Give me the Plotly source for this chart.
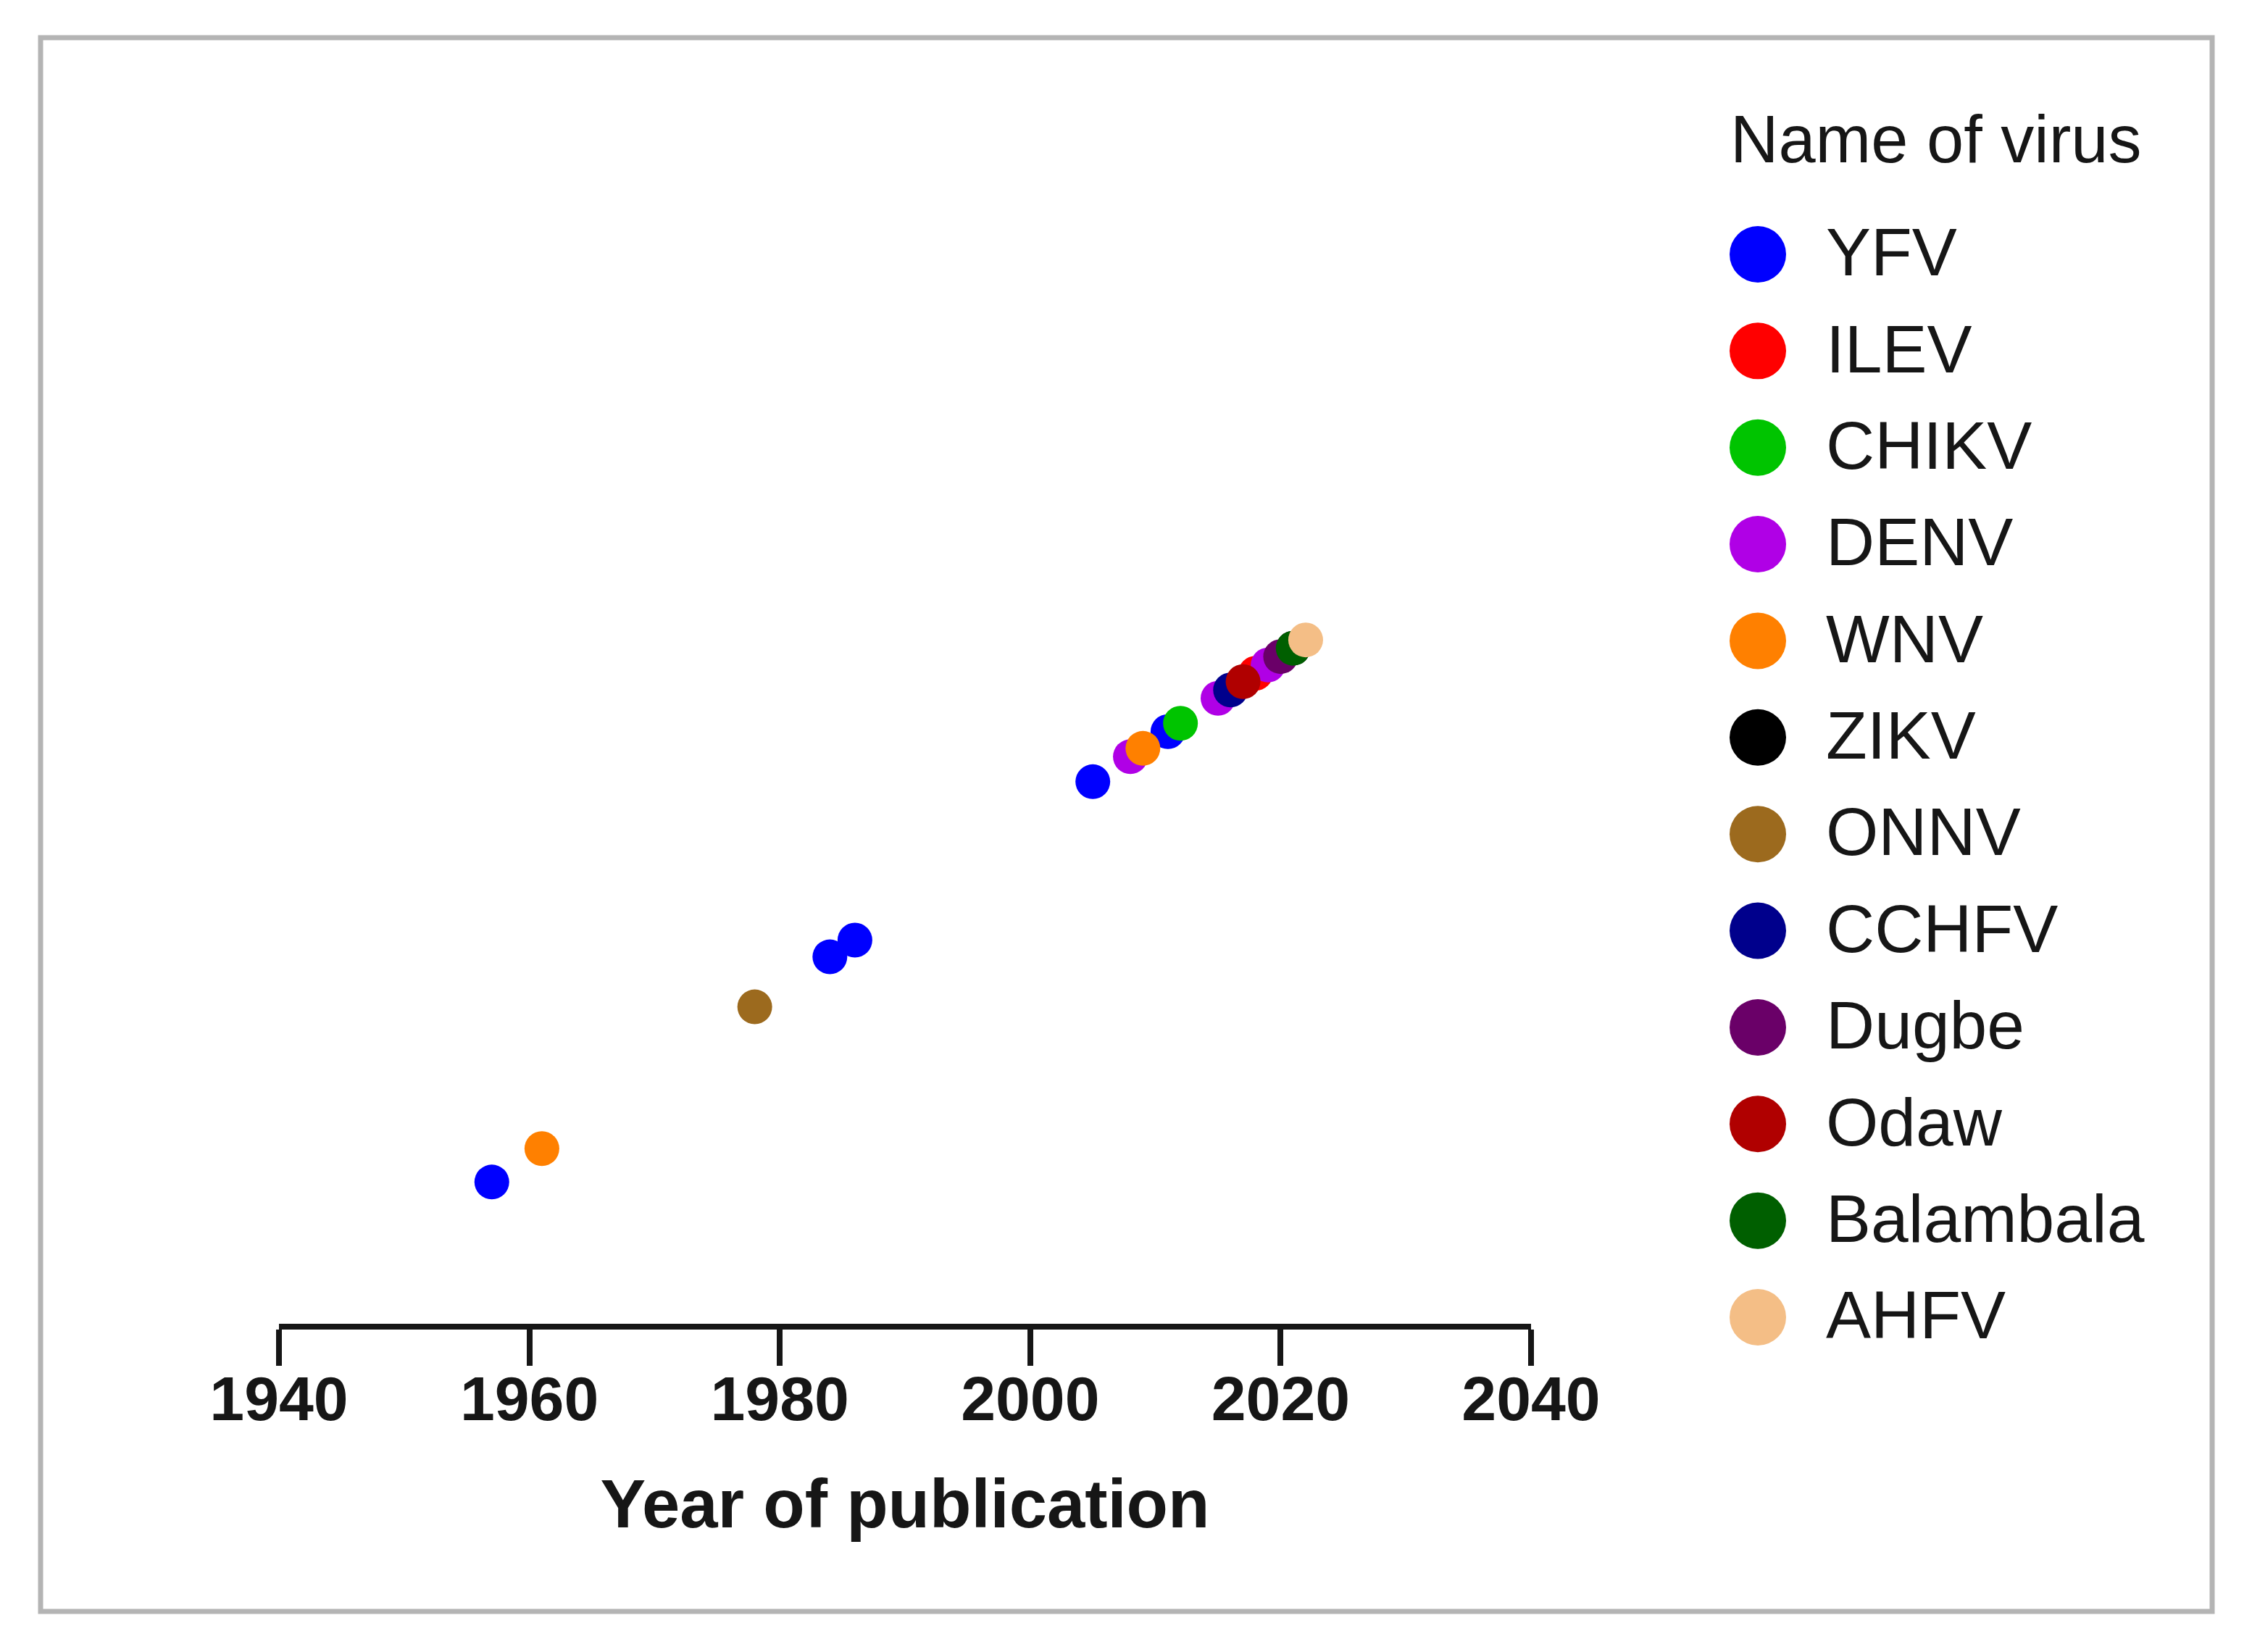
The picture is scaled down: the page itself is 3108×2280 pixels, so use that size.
import plotly.graph_objects as go

# ---------------- data ----------------
viruses = ["YFV", "ILEV", "CHIKV", "DENV", "WNV", "ZIKV", "ONNV",
           "CCHFV", "Dugbe", "Odaw", "Balambala", "AHFV"]
colors = ["#0000FF", "#FF0000", "#00C400", "#B000E6", "#FF8000", "#000000",
          "#9C6A1E", "#00008C", "#6A0068", "#B00000", "#005F00", "#F4BE86"]
years = {
    "YFV": [1957, 1984, 1986, 2005, 2011],
    "ILEV": [2018],
    "CHIKV": [2012],
    "DENV": [2008, 2015, 2019],
    "WNV": [1961, 2009],
    "ZIKV": [2021],
    "ONNV": [1978],
    "CCHFV": [2016],
    "Dugbe": [2020],
    "Odaw": [2017],
    "Balambala": [2021],
    "AHFV": [2022],
}
x_ticks = [1940, 1960, 1980, 2000, 2020, 2040]
x_title = "Year of publication"
legend_title = "Name of virus"

# ---------------- layout helpers ----------------
# the page body adds an 8 px margin; keep the figure inside the window
OFF = 8
W, H = 3108 - 2 * OFF, 2280 - 2 * OFF


def px_x(p):
    return (p - OFF) / W


def px_y(p):
    return 1 - (p - OFF) / H


FONT = "Liberation Sans, Arial, Helvetica, sans-serif"
INK = "#161616"

fig = go.Figure()

# main scatter (the hidden y axis mirrors the year)
for name, col in zip(viruses, colors):
    ys = years[name]
    fig.add_trace(go.Scatter(
        x=ys, y=ys, mode="markers", name=name,
        marker=dict(color=col, size=48, line=dict(width=0)),
        cliponaxis=False, showlegend=False,
        xaxis="x", yaxis="y",
    ))

# legend with large markers, in its own axes
idx = list(range(len(viruses)))
fig.add_trace(go.Scatter(
    x=[0] * len(viruses), y=idx, mode="markers",
    marker=dict(color=colors, size=78, line=dict(width=0)),
    cliponaxis=False, showlegend=False, hoverinfo="skip",
    xaxis="x2", yaxis="y2",
))
fig.add_trace(go.Scatter(
    x=[0] * len(viruses), y=idx, mode="text", text=viruses,
    textposition="middle right",
    textfont=dict(family=FONT, size=93, color=INK),
    cliponaxis=False, showlegend=False, hoverinfo="skip",
    xaxis="x3", yaxis="y3",
))

fig.update_layout(
    width=W, height=H,
    margin=dict(l=0, r=0, t=0, b=0, pad=0, autoexpand=False),
    paper_bgcolor="white", plot_bgcolor="white",
    showlegend=False,
    xaxis=dict(
        domain=[px_x(385), px_x(2113)],
        range=[1940, 2040],
        tickvals=x_ticks, ticktext=[str(t) for t in x_ticks],
        showgrid=False, zeroline=False, automargin=False,
        showline=True, linewidth=8, linecolor=INK,
        ticks="outside", ticklen=50, tickwidth=8, tickcolor=INK,
        ticklabelstandoff=-28,
        tickfont=dict(family=FONT, size=86, color=INK, weight="bold"),
        title=dict(text=x_title, standoff=68,
                   font=dict(family=FONT, size=94, color=INK, weight="bold")),
        anchor="y",
    ),
    yaxis=dict(
        domain=[px_y(1827), px_y(676)],
        range=[1940, 2040],
        visible=False, showgrid=False, zeroline=False, automargin=False,
        anchor="x",
    ),
    xaxis2=dict(
        domain=[px_x(2426), px_x(2506)],
        range=[0, 1], visible=False, automargin=False, anchor="y2",
    ),
    yaxis2=dict(
        domain=[px_y(1818), px_y(351)],
        range=[len(viruses) - 1, 0], visible=False, automargin=False,
        anchor="x2",
    ),
    xaxis3=dict(
        domain=[px_x(2520), px_x(2600)],
        range=[0, 1], visible=False, automargin=False, anchor="y3",
    ),
    yaxis3=dict(
        domain=[px_y(1824), px_y(357)],
        range=[len(viruses) - 1, 0], visible=False, automargin=False,
        anchor="x3",
    ),
    shapes=[dict(
        type="rect", xref="paper", yref="paper",
        x0=px_x(56), x1=px_x(3053), y0=px_y(2224), y1=px_y(52),
        line=dict(color="#B4B4B4", width=7), fillcolor="rgba(0,0,0,0)",
        layer="below",
    )],
    annotations=[dict(
        text=legend_title, xref="paper", yref="paper",
        x=px_x(2386), y=px_y(192), xanchor="left", yanchor="middle",
        showarrow=False,
        font=dict(family=FONT, size=92, color=INK),
    )],
)

fig.write_html("out.html")
